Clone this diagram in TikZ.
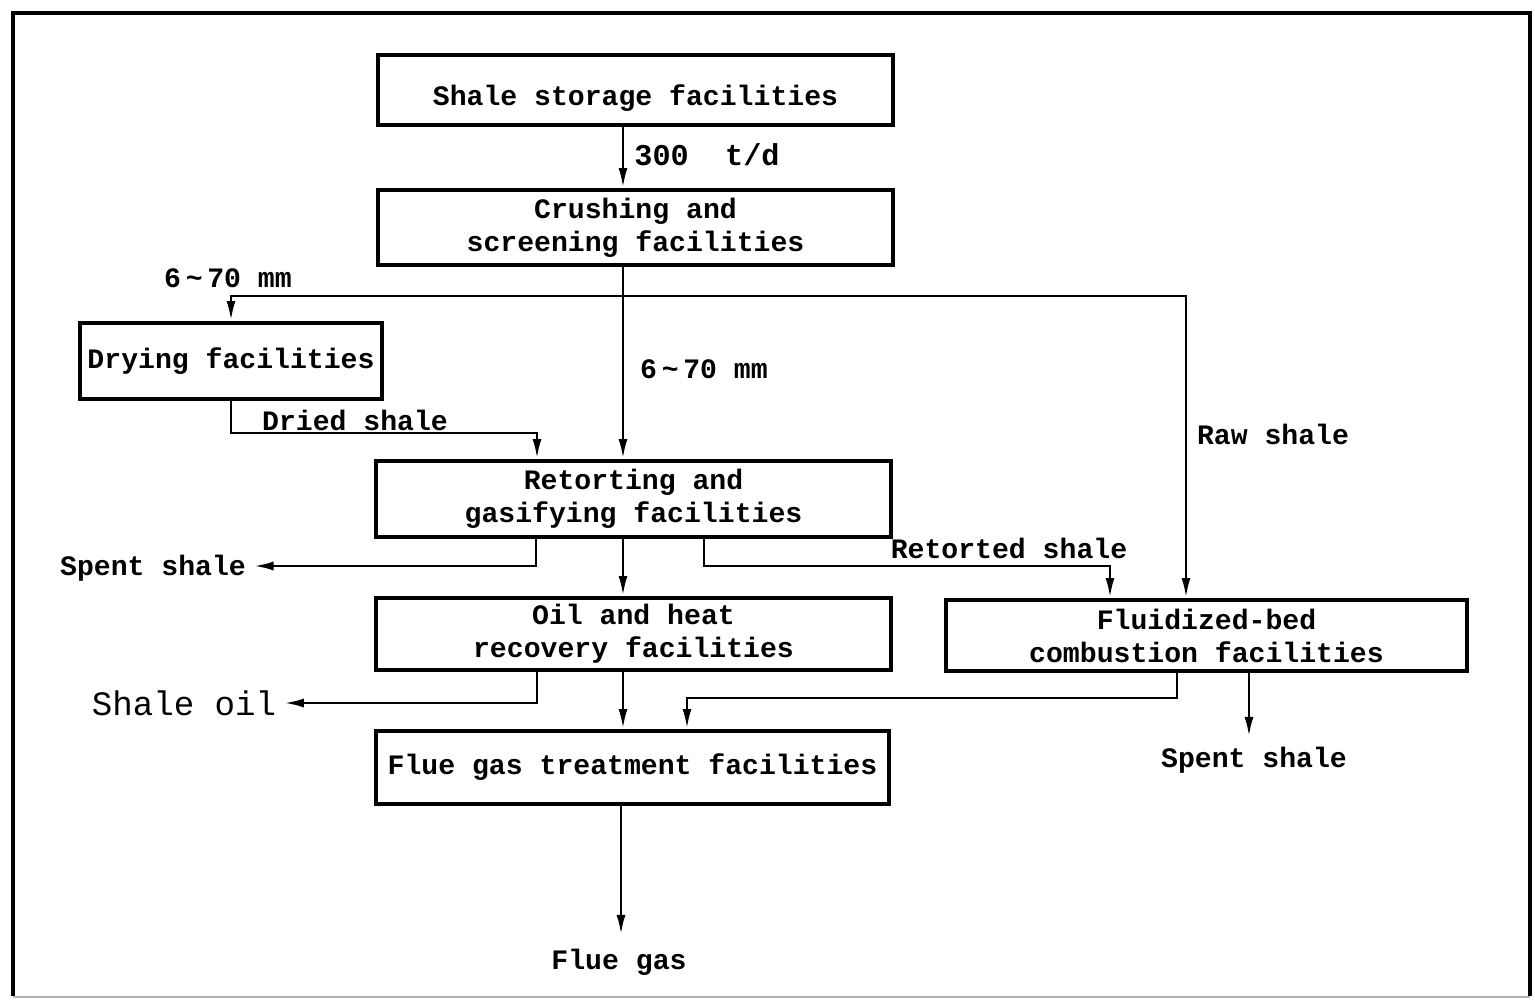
\documentclass[tikz,border=0pt]{standalone}
\usepackage{fontspec}
\usepackage{tikz}
\usetikzlibrary{calc}
\usetikzlibrary{arrows.meta}
\newfontfamily\typer{Liberation Mono}

\begin{document}
\begin{tikzpicture}[x=0.01cm,y=-0.01cm,
	box/.style={draw,line width=1.1pt,align=center,inner sep=0pt,font=\typer\bfseries\fontsize{8}{9.4}\selectfont},
	lbl/.style={inner sep=2pt,font=\typer\bfseries\fontsize{8}{9.4}\selectfont},
	flow/.style={line width=0.8pt,->},
	>={Latex[length=2mm,width=0.9mm]}]
			% fix the page size
			\useasboundingbox (0,0) rectangle (1535,1003);
			% outer frame
			\draw[line width=1.2pt] (13,996) -- (13,13) -- (1530,13) -- (1530,996);
			\draw[line width=0.8pt,gray!60] (13,997) -- (1530,997);
			
			% facilities
			\node[box,minimum width=5.15cm,minimum height=0.70cm] (storage) at (635.5,90) {\raisebox{-4.3pt}[0pt][0pt]{Shale storage facilities}};
			\node[box,minimum width=5.15cm,minimum height=0.75cm] (crush) at (635.5,227.5) {Crushing and\\screening facilities};
			\node[box,minimum width=3.02cm,minimum height=0.76cm] (dry) at (231,361) {Drying facilities};
			\node[box,minimum width=5.15cm,minimum height=0.76cm] (retort) at (633.5,499) {Retorting and\\gasifying facilities};
			\node[box,minimum width=5.15cm,minimum height=0.72cm] (oil) at (633.5,634) {Oil and heat\\recovery facilities};
			\node[box,minimum width=5.21cm,minimum height=0.71cm] (fbc) at (1206.5,635.5) {Fluidized-bed\\combustion facilities};
			\node[box,minimum width=5.13cm,minimum height=0.73cm] (flue) at (632.5,767.5) {Flue gas treatment facilities};
			
			% outputs and labels
			\node[lbl,font=\typer\bfseries\fontsize{8.6}{10}\selectfont] (rate) at (707,155) {300\ \ t/d};
			\node[lbl] (sizeA) at (228,278) {6\,\textasciitilde\,70 mm};
			\node[lbl] (sizeB) at (704,369) {6\,\textasciitilde\,70 mm};
			\node[lbl] (dried) at (355,420) {Dried shale};
			\node[lbl] (raw) at (1273,434) {Raw shale};
			\node[lbl] (retorted) at (1009,548) {Retorted shale};
			\node[lbl] (spentL) at (153,568) {Spent shale};
			\node[lbl,font=\typer\fontsize{9.7}{10}\selectfont] (shaleoil) at (184,703) {Shale oil};
			\node[lbl] (spentR) at (1254,760) {Spent shale};
			\node[lbl] (fluegas) at (619,962) {Flue gas};
			
			% turning points
			\coordinate (trunk) at (623,0);
			\coordinate (split) at (623,296);
			\coordinate (rawx) at (1186,0);
			\coordinate (d1) at (537,433);
			\coordinate (s1) at (536,566);
			\coordinate (r1) at (704,566);
			\coordinate (r2) at (1110,566);
			\coordinate (o1) at (537,703);
			\coordinate (f1) at (1177,698);
			\coordinate (f2) at (687,698);
			\coordinate (spentend) at (1249,737);
			\coordinate (gasend) at (621,935);
			
			% main line
			\draw[flow] (storage.south -| trunk) -- (crush.north -| trunk);
			\draw[flow] (crush.south -| trunk) -- (retort.north -| trunk);
			\draw[flow] (retort.south -| trunk) -- (oil.north -| trunk);
			\draw[flow] (oil.south -| trunk) -- (flue.north -| trunk);
			\draw[flow] (flue.south -| gasend) -- (gasend);
			
			% branches
			\draw[flow] (split) -| (dry.north);
			\draw[flow] (split) -| (fbc.north -| rawx);
			\draw[flow] (dry.south) |- (d1) -- (retort.north -| d1);
			\draw[flow] (retort.south -| s1) |- (spentL.east |- s1);
			\draw[flow] (retort.south -| r1) |- (r2) -- (fbc.north -| r2);
			\draw[flow] (oil.south -| o1) |- (shaleoil.east);
			\draw[flow] (fbc.south -| f1) |- (f2) -- (flue.north -| f2);
			\draw[flow] (fbc.south -| spentend) -- (spentend);
			
\end{tikzpicture}
\end{document}
